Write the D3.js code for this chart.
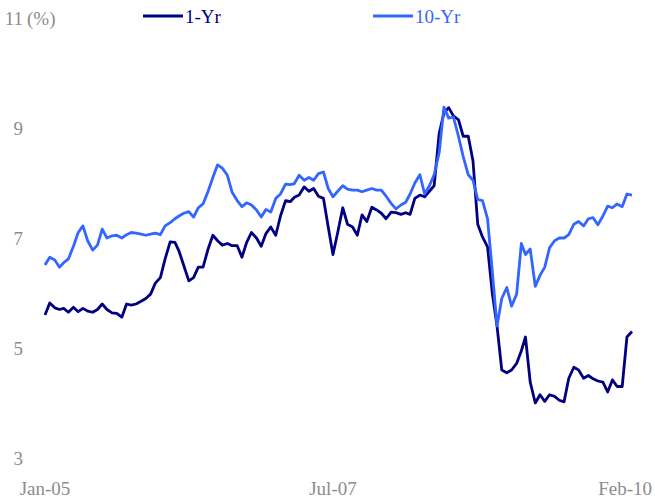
<!DOCTYPE html>
<html>
<head>
<meta charset="utf-8">
<script src="https://cdn.jsdelivr.net/npm/d3@7"></script>
<style>
  body { margin: 0; background: #fff; }
  text { font-family: "Liberation Serif", "DejaVu Serif", serif; }
</style>
</head>
<body>
<script>
// 数据：半月一个点（每月1日和16日）
const dates = [
  "2005-01-01","2005-01-16","2005-02-01","2005-02-16","2005-03-01","2005-03-16","2005-04-01","2005-04-16","2005-05-01","2005-05-16","2005-06-01","2005-06-16",
  "2005-07-01","2005-07-16","2005-08-01","2005-08-16","2005-09-01","2005-09-16","2005-10-01","2005-10-16","2005-11-01","2005-11-16","2005-12-01","2005-12-16",
  "2006-01-01","2006-01-16","2006-02-01","2006-02-16","2006-03-01","2006-03-16","2006-04-01","2006-04-16","2006-05-01","2006-05-16","2006-06-01","2006-06-16",
  "2006-07-01","2006-07-16","2006-08-01","2006-08-16","2006-09-01","2006-09-16","2006-10-01","2006-10-16","2006-11-01","2006-11-16","2006-12-01","2006-12-16",
  "2007-01-01","2007-01-16","2007-02-01","2007-02-16","2007-03-01","2007-03-16","2007-04-01","2007-04-16","2007-05-01","2007-05-16","2007-06-01","2007-06-16",
  "2007-07-01","2007-07-16","2007-08-01","2007-08-16","2007-09-01","2007-09-16","2007-10-01","2007-10-16","2007-11-01","2007-11-16","2007-12-01","2007-12-16",
  "2008-01-01","2008-01-16","2008-02-01","2008-02-16","2008-03-01","2008-03-16","2008-04-01","2008-04-16","2008-05-01","2008-05-16","2008-06-01","2008-06-16",
  "2008-07-01","2008-07-16","2008-08-01","2008-08-16","2008-09-01","2008-09-16","2008-10-01","2008-10-16","2008-11-01","2008-11-16","2008-12-01","2008-12-16",
  "2009-01-01","2009-01-16","2009-02-01","2009-02-16","2009-03-01","2009-03-16","2009-04-01","2009-04-16","2009-05-01","2009-05-16","2009-06-01","2009-06-16",
  "2009-07-01","2009-07-16","2009-08-01","2009-08-16","2009-09-01","2009-09-16","2009-10-01","2009-10-16","2009-11-01","2009-11-16","2009-12-01","2009-12-16",
  "2010-01-01","2010-01-16","2010-02-01"
];

const oneYr = [
  5.60,5.82,5.73,5.70,5.72,5.65,5.74,5.66,5.72,5.67,5.65,5.70,
  5.80,5.70,5.64,5.63,5.56,5.80,5.78,5.80,5.85,5.90,5.98,6.18,
  6.28,6.62,6.93,6.92,6.76,6.50,6.22,6.28,6.47,6.47,6.80,7.05,
  6.95,6.87,6.90,6.86,6.86,6.65,6.92,7.10,7.00,6.85,7.08,7.20,
  7.05,7.40,7.68,7.66,7.74,7.78,7.93,7.85,7.90,7.76,7.72,7.20,
  6.70,7.10,7.55,7.25,7.20,7.05,7.42,7.30,7.56,7.51,7.45,7.35,
  7.47,7.46,7.43,7.46,7.43,7.72,7.78,7.75,7.85,7.95,8.90,9.27,
  9.37,9.22,9.15,8.85,8.85,8.40,7.25,7.02,6.84,6.00,5.40,4.60,
  4.55,4.60,4.72,4.95,5.20,4.38,4.00,4.15,4.03,4.15,4.12,4.05,
  4.02,4.45,4.65,4.60,4.45,4.50,4.44,4.40,4.38,4.20,4.42,4.30,
  4.30,5.20,5.30
];

const tenYr = [
  6.51,6.65,6.60,6.47,6.55,6.62,6.85,7.10,7.22,6.95,6.78,6.87,
  7.16,7.00,7.04,7.05,7.00,7.06,7.10,7.09,7.07,7.05,7.07,7.09,
  7.06,7.22,7.28,7.35,7.40,7.45,7.48,7.38,7.55,7.62,7.85,8.10,
  8.33,8.27,8.14,7.83,7.68,7.57,7.64,7.60,7.51,7.38,7.52,7.47,
  7.72,7.80,7.98,7.97,7.99,8.14,8.05,8.10,8.05,8.17,8.20,7.90,
  7.75,7.85,7.95,7.89,7.87,7.87,7.84,7.87,7.90,7.87,7.87,7.76,
  7.63,7.53,7.60,7.65,7.80,8.00,8.15,7.80,7.95,8.15,8.55,9.38,
  9.18,9.20,8.85,8.48,8.15,8.05,7.70,7.68,7.35,6.40,5.40,5.90,
  6.10,5.76,5.98,6.90,6.70,6.80,6.12,6.32,6.47,6.82,6.95,7.00,
  7.00,7.06,7.25,7.30,7.22,7.35,7.37,7.24,7.40,7.58,7.55,7.62,
  7.57,7.80,7.78
];

const yTicks = [3, 5, 7, 9, 11];
const xTickDates = ["2005-01-01", "2007-07-01", "2010-02-01"];
const xTickLabels = ["Jan-05", "Jul-07", "Feb-10"];

const seriesNames = ["1-Yr", "10-Yr"];
const seriesColors = ["#000080", "#3366ff"];

const width = 655, height = 501;
const parse = d3.timeParse("%Y-%m-%d");

const svg = d3.select("body").append("svg")
    .attr("width", width)
    .attr("height", height);

const x = d3.scaleTime()
    .domain([parse(dates[0]), parse(dates[dates.length - 1])])
    .range([45, 632]);

const y = d3.scaleLinear()
    .domain([3, 11])
    .range([458, 18]);

// y 轴刻度文字
svg.selectAll(".ytick")
    .data(yTicks)
    .enter().append("text")
    .attr("class", "ytick")
    .attr("x", 23)
    .attr("y", d => y(d))
    .attr("dy", "0.35em")
    .attr("text-anchor", "end")
    .style("font-size", "19px")
    .style("fill", "#8c8c8c")
    .text(d => d);

svg.append("text")
    .attr("x", 27)
    .attr("y", y(11))
    .attr("dy", "0.35em")
    .style("font-size", "19px")
    .style("fill", "#8c8c8c")
    .text("(%)");

// x 轴刻度文字
svg.selectAll(".xtick")
    .data(xTickDates)
    .enter().append("text")
    .attr("class", "xtick")
    .attr("y", 495)
    .attr("text-anchor", "middle")
    .style("font-size", "19px")
    .style("fill", "#8c8c8c")
    .text((d, i) => xTickLabels[i])
    .attr("x", function(d) {
        const half = this.getComputedTextLength() / 2;
        return Math.min(x(parse(d)), width - 3 - half);
    });

// 折线
const line = d3.line()
    .x((d, i) => x(parse(dates[i])))
    .y(d => y(d));

[oneYr, tenYr].forEach((vals, i) => {
    svg.append("path")
        .datum(vals)
        .attr("fill", "none")
        .attr("stroke", seriesColors[i])
        .attr("stroke-width", 2.8)
        .attr("stroke-linejoin", "round")
        .attr("d", line);
});

// 图例
const legendX = [143, 373];
seriesNames.forEach((name, i) => {
    const g = svg.append("g").attr("transform", `translate(${legendX[i]}, 16)`);
    g.append("line")
        .attr("x1", 0).attr("x2", 40)
        .attr("y1", 0).attr("y2", 0)
        .attr("stroke", seriesColors[i])
        .attr("stroke-width", 3);
    g.append("text")
        .attr("x", 42)
        .attr("y", 0)
        .attr("dy", "0.35em")
        .style("font-size", "19px")
        .style("fill", seriesColors[i])
        .text(name);
});
</script>
</body>
</html>
